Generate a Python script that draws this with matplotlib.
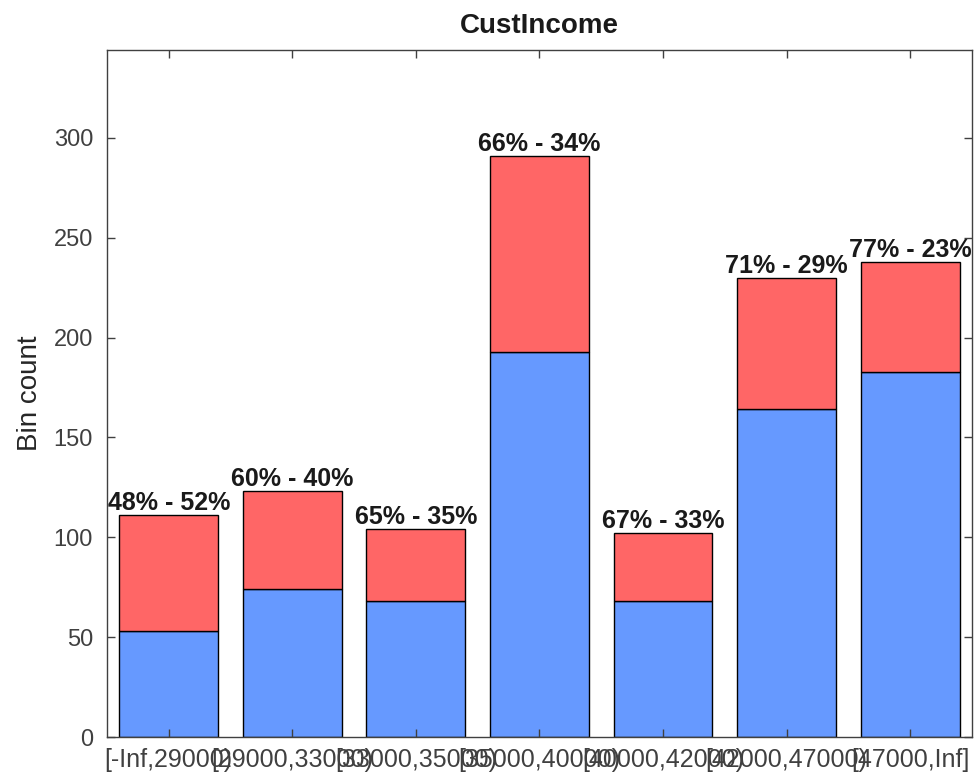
import matplotlib
matplotlib.use("Agg")
import matplotlib.pyplot as plt
import numpy as np

plt.rcParams['font.family'] = ['Liberation Sans', 'DejaVu Sans']

# bins of CustIncome
bin_labels = ['[-Inf,29000)', '[29000,33000)', '[33000,35000)', '[35000,40000)',
              '[40000,42000)', '[42000,47000)', '[47000,Inf]']
good = [53, 74, 68, 193, 68, 164, 183]
bad = [58, 49, 36, 98, 34, 66, 55]

good = np.array(good)
bad = np.array(bad)
total = good + bad
x = np.arange(1, len(bin_labels) + 1)

fig = plt.figure(figsize=(9.75, 7.8), dpi=100)
ax = fig.add_axes([0.1097, 0.0551, 0.8872, 0.8808])

ax.bar(x, good, width=0.8, color='#6699FF', edgecolor='black', linewidth=1)
ax.bar(x, bad, width=0.8, bottom=good, color='#FF6666', edgecolor='black', linewidth=1)

for xi, g, t in zip(x, good, total):
    pg = round(100 * g / t)
    ax.text(xi, t + 2.5, f'{pg}% - {100 - pg}%', ha='center', va='baseline',
            fontsize=18, fontweight='bold', color='#1a1a1a')

ax.set_xlim(0.5, 7.5)
ax.set_ylim(0, 344)
ax.set_xticks(x)
ax.set_xticklabels(bin_labels)
ax.set_yticks(np.arange(0, 301, 50))
ax.tick_params(direction='in', top=True, right=True, length=6, width=1,
               labelsize=17, colors='#404040')
ax.tick_params(axis='y', pad=10)
ax.tick_params(axis='x', pad=8, labelsize=18)
for s in ax.spines.values():
    s.set_color('#404040')
    s.set_linewidth(1)
ax.set_ylabel('Bin count', fontsize=20, color='#262626', labelpad=8)
ax.set_title('CustIncome', fontsize=20, fontweight='bold', pad=12, color='#1a1a1a')

fig.savefig('out.png', dpi=100)
